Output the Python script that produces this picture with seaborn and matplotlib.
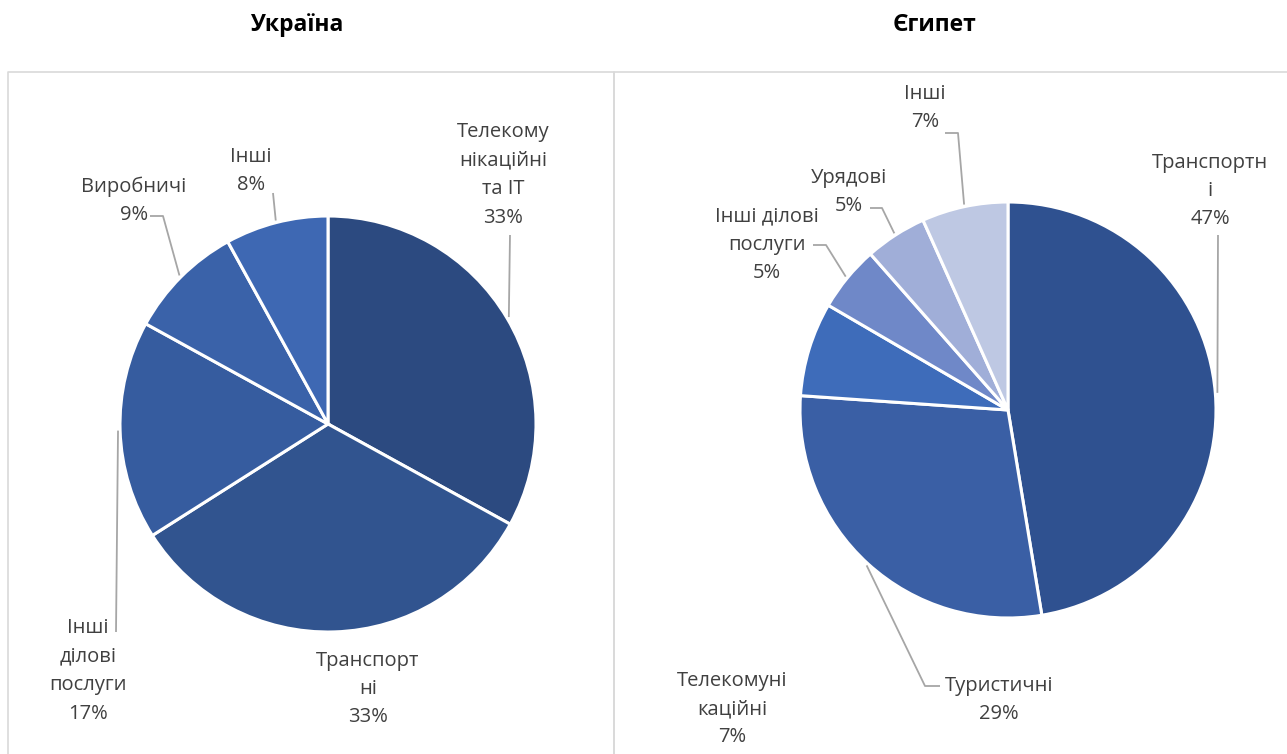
import numpy as np
import seaborn as sns
import matplotlib.pyplot as plt

W, H = 1287, 754

ua_labels = ["Телекому\nнікаційні\nта ІТ", "Транспорт\nні", "Інші\nділові\nпослуги", "Виробничі", "Інші"]
ua_values = [33, 33, 17, 9, 8]
ua_colors = ["#2c4a80", "#31548f", "#365c9f", "#3a62a9", "#3e68b3"]

eg_labels = ["Транспортн\nі", "Туристичні", "Телекомуні\nкаційні", "Інші ділові\nпослуги", "Урядові", "Інші"]
eg_values = [47.4, 28.7, 7.3, 5.1, 4.8, 6.7]
eg_colors = ["#2f5190", "#3a5fa5", "#3e6cba", "#6f88c8", "#a0aed8", "#bec8e3"]

sns.set_theme(style="white")
plt.rcParams['font.family'] = ['Open Sans', 'DejaVu Sans']

TXT = "#404040"
LINE = "#a6a6a6"


def Y(y):
    # image rows (top-down) to data y (bottom-up)
    return H - y


def draw_pie(ax, values, labels, colors, cx, cy, r, label_pos, leaders):
    ax.pie(values, colors=colors, startangle=90, counterclock=False,
           center=(cx, Y(cy)), radius=r,
           wedgeprops=dict(edgecolor="white", linewidth=2.2))
    total = sum(values)
    cum = 0
    for v, lab, (lx, ly), path in zip(values, labels, label_pos, leaders):
        mid = 90 - 360 * (cum + v / 2) / total
        cum += v
        ax.text(lx, Y(ly), f"{lab}\n{round(v)}%", ha="center", va="center",
                fontsize=14.5, color=TXT, linespacing=1.56)
        if path:
            ax_x = cx + r * 1.01 * np.cos(np.radians(mid))
            ax_y = Y(cy) + r * 1.01 * np.sin(np.radians(mid))
            xs = [ax_x] + [p[0] for p in path]
            ys = [ax_y] + [Y(p[1]) for p in path]
            ax.plot(xs, ys, color=LINE, lw=1.3, solid_capstyle="butt")


fig = plt.figure(figsize=(W / 100, H / 100), dpi=100)
ax = fig.add_axes([0, 0, 1, 1])

# panel boxes
for x0, x1 in [(8, 614), (614, W + 5)]:
    ax.plot([x0, x0, x1, x1], [Y(H + 5), Y(72), Y(72), Y(H + 5)],
            color="#d9d9d9", lw=1.2)

ax.text(297, Y(25), "Україна", ha="center", va="center", fontsize=16.5,
        fontweight="bold", color="black")
ax.text(935, Y(25), "Єгипет", ha="center", va="center", fontsize=16.5,
        fontweight="bold", color="black")

draw_pie(ax, ua_values, ua_labels, ua_colors, 328, 424, 208,
         [(503, 175), (368, 689), (88, 671), (134, 201), (251, 171)],
         [[(510, 235)], None, [(116, 632)], [(163, 216), (150, 216)], [(273, 193)]])

draw_pie(ax, eg_values, eg_labels, eg_colors, 1008, 410, 208,
         [(1210, 191), (999, 700), (732, 709), (767, 245), (849, 192), (925, 108)],
         [[(1218, 235)], [(925, 686), (940, 686)], None,
          [(826, 245), (813, 245)], [(882, 208), (870, 208)], [(958, 133), (945, 133)]])

ax.set_xlim(0, W)
ax.set_ylim(0, H)
ax.set_aspect("equal")
ax.axis("off")

fig.savefig("out.png", dpi=100, facecolor="white")
